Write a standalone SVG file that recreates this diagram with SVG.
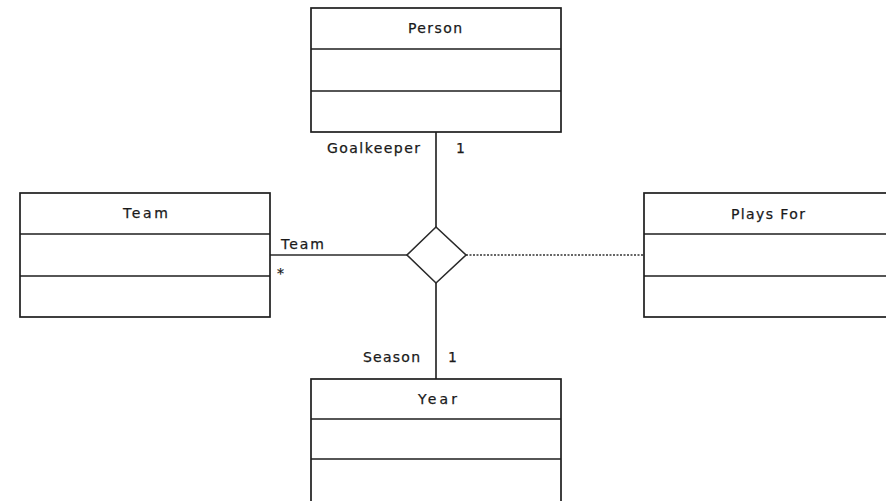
<svg xmlns="http://www.w3.org/2000/svg" width="886" height="501" viewBox="0 0 886 501">
<style>
.box{fill:#fff;stroke:#1e1e1e;stroke-width:1.7}
.div{stroke:#1e1e1e;stroke-width:1.7}
.t{font-family:"DejaVu Sans","Liberation Sans",Arial,sans-serif;font-size:14px;fill:#1a1a1a;stroke:#1a1a1a;stroke-width:0.25}
.ln{stroke:#2a2a2a;stroke-width:1.7;fill:none}
.dot{stroke:#333;stroke-width:1.6;stroke-dasharray:2 1.5;fill:none}
</style>
<rect width="886" height="501" fill="#fff"/>
<g id="connectors">
<line class="ln" x1="436" y1="132" x2="436" y2="227"/>
<line class="ln" x1="270" y1="255" x2="407" y2="255"/>
<line class="ln" x1="436" y1="283" x2="436" y2="379"/>
<line class="dot" x1="466" y1="255" x2="644" y2="255"/>
<polygon id="assoc" points="436,227 466,255 436,283 407,255" fill="#fff" stroke="#2a2a2a" stroke-width="1.6"/>
<text class="t" x="327" y="153" textLength="93" lengthAdjust="spacing">Goalkeeper</text>
<text class="t" x="456" y="153">1</text>
<text class="t" x="281" y="249" textLength="43" lengthAdjust="spacing">Team</text>
<text class="t" x="277" y="278" font-size="10">*</text>
<text class="t" x="363" y="362" textLength="57" lengthAdjust="spacing">Season</text>
<text class="t" x="448" y="362">1</text>
</g>
<g id="person">
<rect class="box" x="311" y="8" width="250" height="124"/>
<line class="div" x1="311" y1="49" x2="561" y2="49"/>
<line class="div" x1="311" y1="91" x2="561" y2="91"/>
<text class="t" x="408" y="33" textLength="54" lengthAdjust="spacing">Person</text>
</g>
<g id="team">
<rect class="box" x="20" y="193" width="250" height="124"/>
<line class="div" x1="20" y1="234" x2="270" y2="234"/>
<line class="div" x1="20" y1="276" x2="270" y2="276"/>
<text class="t" x="123" y="218" textLength="45" lengthAdjust="spacing">Team</text>
</g>
<g id="playsfor">
<rect class="box" x="644" y="193" width="250" height="124"/>
<line class="div" x1="644" y1="234" x2="894" y2="234"/>
<line class="div" x1="644" y1="276" x2="894" y2="276"/>
<text class="t" x="731" y="219" textLength="74" lengthAdjust="spacing">Plays For</text>
</g>
<g id="year">
<rect class="box" x="311" y="379" width="250" height="124"/>
<line class="div" x1="311" y1="419" x2="561" y2="419"/>
<line class="div" x1="311" y1="459" x2="561" y2="459"/>
<text class="t" x="418" y="404" textLength="39" lengthAdjust="spacing">Year</text>
</g>
</svg>
